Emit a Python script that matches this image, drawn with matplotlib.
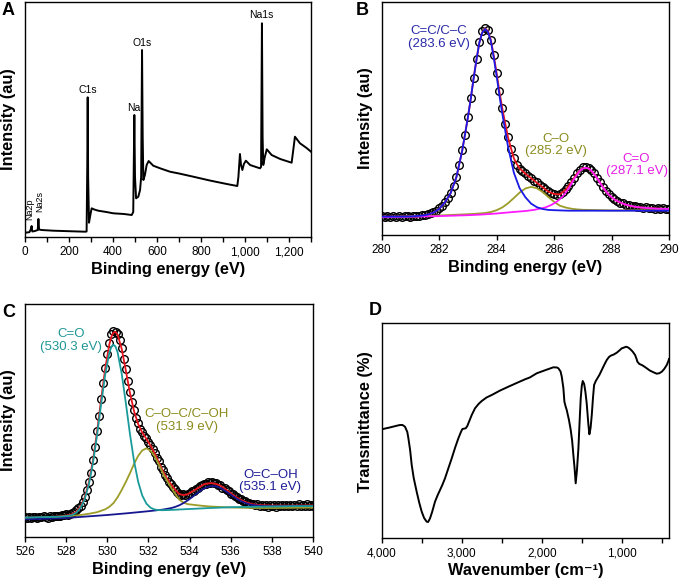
import matplotlib
matplotlib.use("Agg")
import matplotlib.pyplot as plt
import numpy as np
from matplotlib.ticker import MultipleLocator, StrMethodFormatter

plt.rcParams["font.family"] = ["Liberation Sans", "DejaVu Sans"]

# ---------------- A: XPS survey ----------------
survey_ev = [0, 20, 27, 30, 33, 45, 58, 61, 64, 75, 129, 200, 273, 280, 283, 285,
             287, 291, 297, 303, 315, 333, 370, 401, 450, 485, 492, 497, 500, 505,
             515, 523, 528, 532, 535, 538, 545, 553, 562, 583, 614, 659, 700, 765,
             840, 917, 965, 970, 977, 982, 988, 995, 1004, 1023, 1050, 1068, 1073,
             1077, 1080, 1083, 1090, 1099, 1121, 1160, 1212, 1220, 1227, 1250, 1280,
             1300]
survey_int = [4.3, 4.8, 8, 11, 5.5, 6.0, 7, 18, 7.5, 7.0, 6.3, 5.8, 5.3, 5.5, 70, 139.7,
              60, 14.3, 22, 28.7, 27.5, 26.3, 25, 23.7, 23, 22, 25, 122, 60, 38.7,
              40.3, 47, 60, 187, 100, 57, 62, 72, 76, 71.3, 68.7, 65.3, 63.5, 60.3,
              56.5, 53, 51, 60, 83, 72, 67, 73, 76.3, 72, 70, 68.7, 70,
              213.7, 100, 72, 80, 87.7, 82, 78, 74.3, 88, 100.3, 93.7, 89,
              85.3]

# ---------------- B: C1s ----------------
c1s_start, c1s_step = 280.0, 0.1
c1s_counts = [
    18.9, 18.2, 18.6, 17.9, 18.7, 18.3, 18.8, 18.1, 18.6, 19.0,
    18.4, 18.9, 19.2, 19.0, 19.8, 20.5, 20.9, 21.6, 23.0, 24.3,
    26.6, 29.5, 33.1, 36.8, 42.5, 49.0, 58.4, 70.2, 84.9, 100.2,
    118.5, 136.9, 157.4, 176.0, 193.1, 203.6, 207.4, 205.0, 195.5, 179.8,
    162.4, 143.6, 127.0, 111.0, 97.9, 86.2, 77.4, 70.5, 66.0, 63.8,
    61.7, 58.6, 57.3, 54.5, 52.9, 50.1, 48.3, 45.6, 43.9, 42.1,
    41.5, 40.4, 41.2, 42.7, 45.6, 49.0, 53.4, 57.2, 62.1, 65.3,
    67.6, 68.2, 67.3, 64.9, 61.8, 57.4, 53.0, 48.1, 44.5, 40.7,
    38.4, 35.6, 34.3, 32.5, 31.8, 30.4, 30.0, 28.9, 28.8, 27.9,
    28.1, 27.3, 27.6, 26.8, 27.2, 26.5, 26.9, 26.1, 26.7, 25.9,
    26.4]
c1s_fit_ev = [280.0, 280.4, 280.8, 281.2, 281.4, 281.6, 281.8, 282.0, 282.2, 282.4,
              282.6, 282.8, 282.9, 283.0, 283.1, 283.2, 283.3, 283.4, 283.5, 283.6,
              283.7, 283.8, 283.9, 284.0, 284.1, 284.2, 284.3, 284.4, 284.5, 284.6,
              284.7, 284.8, 284.9, 285.0, 285.2, 285.4, 285.6, 285.8, 286.0, 286.2,
              286.4, 286.6, 286.8, 287.0, 287.2, 287.4, 287.6, 287.8, 288.0, 288.2,
              288.4, 288.6, 288.8, 289.0, 289.4, 289.8, 290.0]
c1s_fit = [18.4, 18.4, 18.5, 18.5, 19.4, 20.4, 22.3, 26.0, 32.6, 41.9,
           57.9, 84.0, 100.7, 117.6, 136.3, 156.8, 175.5, 192.5, 202.6, 206.5,
           203.8, 194.9, 179.3, 161.9, 143.0, 126.2, 111.5, 97.3, 86.9, 76.7,
           71.1, 66.4, 64.1, 61.3, 56.8, 52.3, 47.8, 43.4, 41.0, 40.6,
           45.1, 52.8, 61.6, 66.9, 66.6, 61.1, 52.2, 43.7, 37.7, 33.7,
           31.2, 29.4, 28.2, 27.5, 26.6, 26.2, 26.1]
cc_ev = [280.0, 280.5, 281.0, 281.4, 281.6, 281.8, 282.0, 282.2, 282.4, 282.6,
         282.8, 282.9, 283.0, 283.1, 283.2, 283.3, 283.4, 283.5, 283.6, 283.7,
         283.8, 283.9, 284.0, 284.1, 284.2, 284.3, 284.4, 284.6, 284.8, 285.0,
         285.2, 285.4, 285.6, 285.8, 286.0, 286.5, 287.0, 288.0, 289.0, 290.0]
cc_int = [18.4, 18.4, 18.5, 19.4, 20.4, 22.3, 26.0, 32.6, 41.9, 57.9,
          84.0, 100.7, 117.6, 136.3, 156.8, 175.5, 192.5, 202.4, 206.0, 203.0,
          193.7, 177.3, 159.1, 139.0, 120.8, 104.3, 87.9, 62.3, 46.8, 37.8,
          31.4, 27.8, 26.0, 25.1, 24.8, 24.3, 24.3, 24.3, 24.3, 24.3]
co_ev = [280.0, 281.0, 282.0, 283.0, 283.2, 283.4, 283.6, 283.8, 284.0, 284.2,
         284.4, 284.6, 284.8, 285.0, 285.2, 285.4, 285.6, 285.8, 286.0, 286.2,
         286.4, 286.6, 286.8, 287.0, 287.5, 288.0, 289.0, 290.0]
co_int = [17.8, 18.5, 19.5, 20.8, 21.1, 21.5, 22.0, 23.0, 24.8, 27.6,
          31.8, 37.0, 42.4, 46.5, 48.1, 46.8, 43.1, 38.0, 33.2, 29.3,
          27.5, 26.3, 25.6, 25.2, 24.9, 24.6, 24.7, 24.8]
cdo_ev = [280.0, 281.0, 282.0, 283.0, 283.5, 284.0, 284.5, 285.0, 285.3, 285.5,
          285.7, 285.9, 286.1, 286.3, 286.5, 286.7, 286.9, 287.0, 287.1, 287.2,
          287.3, 287.5, 287.7, 287.9, 288.1, 288.3, 288.5, 288.7, 288.9, 289.1,
          289.5, 290.0]
cdo_int = [17.8, 18.3, 18.9, 19.8, 20.5, 21.5, 22.8, 24.0, 25.1, 26.3,
           27.6, 30.0, 33.4, 38.5, 46.1, 56.2, 64.3, 66.4, 67.2, 66.5,
           64.3, 56.8, 47.6, 40.5, 35.5, 32.6, 30.3, 28.9, 27.9, 27.3,
           26.4, 26.0]

# ---------------- C: O1s ----------------
o1s_start, o1s_step = 526.0, 0.1
o1s_counts = [
    19.8, 18.9, 20.2, 19.1, 19.9, 20.4, 19.2, 20.1, 19.6, 20.6,
    20.0, 19.5, 20.8, 20.2, 21.0, 20.6, 21.3, 20.9, 22.0, 21.8,
    22.6, 22.4, 23.5, 24.1, 25.0, 26.7, 28.6, 31.5, 35.2, 40.3,
    46.8, 55.1, 64.5, 76.9, 90.2, 105.6, 121.0, 138.2, 154.1, 169.5,
    182.6, 194.0, 202.8, 206.1, 205.3, 203.0, 196.8, 188.9, 178.5, 167.9,
    155.6, 145.2, 135.0, 126.8, 119.3, 113.6, 108.2, 104.9, 100.6, 98.8,
    94.7, 91.9, 87.6, 84.5, 79.3, 75.6, 70.1, 66.8, 62.0, 59.5,
    55.3, 53.2, 49.6, 47.8, 44.6, 43.5, 42.1, 42.6, 41.8, 43.4,
    43.9, 45.8, 46.2, 48.3, 49.1, 50.9, 51.6, 53.5, 53.2, 54.6,
    54.1, 55.0, 53.6, 54.0, 52.2, 51.9, 49.5, 49.3, 46.6, 45.9,
    43.5, 43.0, 40.6, 40.1, 38.0, 37.6, 35.7, 35.9, 34.1, 34.4,
    32.8, 33.4, 31.9, 32.6, 31.2, 32.4, 30.8, 32.1, 30.5, 32.3,
    30.9, 32.0, 30.4, 31.8, 30.7, 32.2, 30.6, 31.9, 30.8, 32.5,
    30.9, 32.0, 31.1, 32.6, 30.7, 32.1, 31.3, 32.8, 31.0, 32.4,
    31.5]
o1s_fit_ev = [526.0, 526.5, 527.0, 527.5, 527.9, 528.1, 528.3, 528.5, 528.7, 528.9,
              529.1, 529.3, 529.5, 529.7, 529.9, 530.1, 530.2, 530.3, 530.4, 530.5,
              530.7, 530.9, 531.1, 531.3, 531.5, 531.7, 531.9, 532.1, 532.3, 532.5,
              532.7, 532.9, 533.1, 533.3, 533.5, 533.7, 533.9, 534.1, 534.3, 534.5,
              534.7, 534.9, 535.1, 535.3, 535.5, 535.7, 535.9, 536.1, 536.3, 536.5,
              536.7, 536.9, 537.1, 537.5, 537.9, 538.5, 539.0, 539.5, 540.0]
o1s_fit = [19.3, 19.5, 19.9, 20.3, 21.1, 21.7, 22.9, 25.4, 30.4, 39.5,
           54.3, 76.2, 104.8, 137.5, 168.6, 192.7, 200.3, 204.4, 205.1, 202.4,
           188.2, 166.7, 144.2, 125.9, 113.0, 104.4, 98.2, 91.5, 83.8, 74.8,
           66.0, 58.7, 52.6, 47.3, 42.9, 41.9, 42.7, 45.1, 47.5, 50.1,
           52.8, 53.6, 53.8, 53.0, 51.3, 48.6, 45.3, 42.3, 39.4, 37.1,
           35.1, 33.7, 32.6, 31.8, 31.5, 31.4, 31.4, 31.5, 31.6]
oco_ev = [526.0, 527.0, 527.5, 527.9, 528.1, 528.3, 528.5, 528.7, 528.9, 529.1,
          529.3, 529.5, 529.7, 529.9, 530.1, 530.2, 530.3, 530.4, 530.5, 530.7,
          530.9, 531.1, 531.3, 531.5, 531.7, 531.9, 532.1, 532.3, 532.5, 532.7,
          533.0, 534.0, 535.0, 536.0, 537.0, 538.0, 539.0, 540.0]
oco_int = [19.5, 20.0, 20.2, 20.6, 21.1, 22.1, 24.4, 29.1, 37.8, 52.2,
           73.4, 101.3, 132.8, 162.5, 184.3, 190.2, 192.3, 190.4, 184.8, 163.5,
           134.2, 103.3, 76.0, 55.3, 41.5, 33.4, 29.3, 27.5, 26.9, 26.8,
           27.0, 28.0, 29.0, 29.8, 30.2, 30.5, 30.8, 31.0]
ocoh_ev = [526.0, 526.9, 527.5, 527.9, 528.3, 528.7, 529.1, 529.5, 529.9, 530.1,
           530.3, 530.5, 530.7, 530.9, 531.1, 531.3, 531.5, 531.7, 531.9, 532.1,
           532.3, 532.5, 532.7, 532.9, 533.1, 533.3, 533.5, 533.7, 533.9, 534.3,
           534.7, 535.1, 535.9, 537.0, 538.0, 539.0, 540.0]
ocoh_int = [18.5, 19.2, 19.9, 20.5, 21.1, 22.0, 23.2, 24.8, 27.7, 30.2,
            33.9, 39.7, 47.0, 55.0, 63.7, 73.1, 81.1, 86.6, 88.7, 86.4,
            80.8, 72.6, 63.8, 56.3, 49.4, 43.2, 37.4, 34.4, 32.9, 31.9,
            31.0, 30.4, 29.6, 29.0, 29.0, 29.2, 29.4]
cooh_ev = [526.0, 527.0, 528.0, 529.0, 530.0, 531.0, 532.0, 532.7, 533.1, 533.3,
           533.5, 533.7, 533.9, 534.1, 534.3, 534.5, 534.7, 534.9, 535.1, 535.3,
           535.5, 535.7, 535.9, 536.1, 536.3, 536.5, 536.7, 536.9, 537.1, 537.5,
           538.0, 539.0, 540.0]
cooh_int = [17.7, 18.3, 19.0, 20.5, 22.0, 23.8, 25.8, 27.4, 28.9, 30.1,
            31.7, 33.9, 36.5, 39.5, 42.7, 45.8, 48.5, 50.3, 51.0, 50.5,
            49.0, 46.6, 43.8, 40.9, 38.1, 35.9, 34.1, 32.7, 31.9, 31.1,
            30.8, 30.9, 31.0]

# ---------------- D: FTIR ----------------
wavenumber = [4000, 3900, 3800, 3771, 3740, 3709, 3680, 3667, 3645, 3625,
              3600, 3563, 3530, 3500, 3470, 3438, 3420, 3396, 3370, 3334,
              3300, 3271, 3240, 3209, 3170, 3125, 3080, 3042, 3010, 2992,
              2950, 2930, 2917, 2895, 2875, 2834, 2790, 2750, 2690, 2625,
              2520, 2417, 2300, 2209, 2150, 2063, 1950, 1855, 1810, 1792,
              1765, 1750, 1730, 1717, 1700, 1688, 1660, 1638, 1620, 1605,
              1590, 1576, 1560, 1542, 1525, 1513, 1500, 1488, 1470, 1455,
              1440, 1430, 1418, 1405, 1390, 1375, 1360, 1346, 1325, 1305,
              1280, 1250, 1220, 1188, 1160, 1138, 1100, 1063, 1030, 1000,
              970, 946, 920, 896, 865, 834, 815, 805, 780, 750,
              720, 688, 650, 604, 563, 530, 500, 470, 438, 420, 410]
transmittance = [108.7, 110.5, 112.5, 113, 113, 111.3, 106, 100, 88, 73,
                 60, 46.3, 35, 26.3, 20, 16.3, 16.0, 19.7, 26, 36.3,
                 43, 48, 53.5, 59.7, 69, 79.7, 91, 99.7, 106, 109,
                 109.7, 112, 114.7, 119, 123, 129.7, 134, 137, 140.5, 143,
                 147.5, 151.3, 155.5, 158.7, 160.5, 164.7, 168, 170.7, 170.5, 169.7,
                 166.5, 161.3, 150, 136.3, 131, 128, 118, 108, 97, 83,
                 70, 54.7, 68, 89.7, 120, 139.7, 152, 157, 154, 146.3,
                 136, 126.3, 114, 103.7, 110, 123, 140, 153, 157, 159.7,
                 163, 168, 173, 178, 181, 182.3, 183.5, 185.3, 187.5, 189.7,
                 190.5, 191.3, 190.5, 189, 186.5, 183, 179, 176.3, 174, 173,
                 171.5, 169.7, 167.5, 165.7, 164.3, 164.8, 166.3, 169, 173, 176.5, 179]


def style_axes(ax):
    for spine in ax.spines.values():
        spine.set_linewidth(1.0)
    ax.set_yticks([])
    ax.tick_params(axis="x", which="both", direction="out", length=3.5,
                   width=1.0, labelsize=8.5, pad=3)
    ax.set_ylabel("Intensity (au)", fontsize=11.8, fontweight="bold")
    ax.yaxis.set_label_coords(-0.032, 0.5)


def main():
    fig = plt.figure(figsize=(6.8, 5.82), dpi=100)
    W, H = 680.0, 582.0

    def box(left, top, right, bottom):
        return [left / W, 1 - bottom / H, (right - left) / W, (bottom - top) / H]

    ax_a = fig.add_axes(box(25, 2, 311, 237))
    ax_b = fig.add_axes(box(381.7, 2, 669, 235))
    ax_c = fig.add_axes(box(25, 304, 313, 537))
    ax_d = fig.add_axes(box(381.7, 323, 669, 538))

    # A
    ax_a.plot(survey_ev, survey_int, color="black", lw=1.4)
    ax_a.set_xlim(0, 1300)
    ax_a.set_ylim(0, 235)
    style_axes(ax_a)
    ax_a.xaxis.set_major_locator(MultipleLocator(200))
    ax_a.xaxis.set_minor_locator(MultipleLocator(100))
    ax_a.xaxis.set_major_formatter(StrMethodFormatter("{x:,.0f}"))
    ax_a.set_xlabel("Binding energy (eV)", fontsize=11.8, fontweight="bold", labelpad=3)
    ax_a.text(285, 147, "C1s", fontsize=7.5, ha="center", va="center")
    ax_a.text(495, 129, "Na", fontsize=7.5, ha="center", va="center")
    ax_a.text(534, 194, "O1s", fontsize=7.5, ha="center", va="center")
    ax_a.text(1076, 221.5, "Na1s", fontsize=7.5, ha="center", va="center")
    ax_a.text(22, 28, "Na2p", fontsize=6.5, rotation=90, ha="center", va="center")
    ax_a.text(69, 36, "Na2s", fontsize=6.5, rotation=90, ha="center", va="center")

    # B
    c1s_ev = c1s_start + c1s_step * np.arange(len(c1s_counts))
    ax_b.plot(c1s_ev, c1s_counts, "o", mfc="none", mec="black", ms=5.5, mew=1.0, zorder=2)
    ax_b.plot(c1s_fit_ev, c1s_fit, color="#e8141e", lw=1.3, zorder=3)
    ax_b.plot(co_ev, co_int, color="#9c9c28", lw=1.3, zorder=4)
    ax_b.plot(cdo_ev, cdo_int, color="#ff1aff", lw=1.3, zorder=4)
    ax_b.plot(cc_ev, cc_int, color="#1a1ae6", lw=1.3, zorder=5)
    ax_b.set_xlim(280, 290)
    ax_b.set_ylim(0, 233)
    style_axes(ax_b)
    ax_b.xaxis.set_major_locator(MultipleLocator(2))
    ax_b.set_xlabel("Binding energy (eV)", fontsize=11.8, fontweight="bold", labelpad=3)
    ax_b.text(282.0, 197.5, "C=C/C\u2013C\n(283.6 eV)", color="#2a2aa8", fontsize=9.5,
              ha="center", va="center", linespacing=1.1)
    ax_b.text(286.05, 90, "C\u2013O\n(285.2 eV)", color="#8c8c1e", fontsize=9.5,
              ha="center", va="center", linespacing=1.1)
    ax_b.text(288.87, 70, "C=O\n(287.1 eV)", color="#e61ee6", fontsize=9.5,
              ha="center", va="center", linespacing=1.1)

    # C
    o1s_ev = o1s_start + o1s_step * np.arange(len(o1s_counts))
    ax_c.plot(o1s_ev, o1s_counts, "o", mfc="none", mec="black", ms=5.5, mew=1.0, zorder=2)
    ax_c.plot(o1s_fit_ev, o1s_fit, color="#e8141e", lw=1.3, zorder=3)
    ax_c.plot(ocoh_ev, ocoh_int, color="#9c9c28", lw=1.3, zorder=4)
    ax_c.plot(cooh_ev, cooh_int, color="#16168f", lw=1.3, zorder=4)
    ax_c.plot(oco_ev, oco_int, color="#1a9a9a", lw=1.3, zorder=5)
    ax_c.set_xlim(526, 540)
    ax_c.set_ylim(0, 233)
    style_axes(ax_c)
    ax_c.xaxis.set_major_locator(MultipleLocator(2))
    ax_c.set_xlabel("Binding energy (eV)", fontsize=11.8, fontweight="bold", labelpad=3)
    ax_c.text(528.23, 196.7, "C=O\n(530.3 eV)", color="#1f9696", fontsize=9.5,
              ha="center", va="center", linespacing=1.1)
    ax_c.text(533.86, 116.7, "C\u2013O\u2013C/C\u2013OH\n(531.9 eV)", color="#8c8c1e",
              fontsize=9.5, ha="center", va="center", linespacing=1.1)
    ax_c.text(537.93, 56, "O=C\u2013OH\n(535.1 eV)", color="#1e1e96", fontsize=9.5,
              ha="center", va="center", linespacing=1.1)

    # D
    ax_d.plot(wavenumber, transmittance, color="black", lw=1.4)
    ax_d.set_xlim(4000, 410)
    ax_d.set_ylim(0, 215)
    style_axes(ax_d)
    ax_d.xaxis.set_major_locator(MultipleLocator(1000))
    ax_d.xaxis.set_minor_locator(MultipleLocator(500))
    ax_d.xaxis.set_major_formatter(StrMethodFormatter("{x:,.0f}"))
    ax_d.set_ylabel("Transmittance (%)", fontsize=11.8, fontweight="bold")
    ax_d.yaxis.set_label_coords(-0.032, 0.54)
    ax_d.set_xlabel("Wavenumber (cm\u207b\u00b9)", fontsize=11.8, fontweight="bold", labelpad=3)

    # panel letters
    for letter, px, py in [("A", 2, 2), ("B", 356, 2), ("C", 2, 304), ("D", 369, 302)]:
        fig.text(px / W, 1 - py / H, letter, fontsize=13, fontweight="bold",
                 ha="left", va="top")

    fig.savefig("out.png", dpi=100)


if __name__ == "__main__":
    main()
